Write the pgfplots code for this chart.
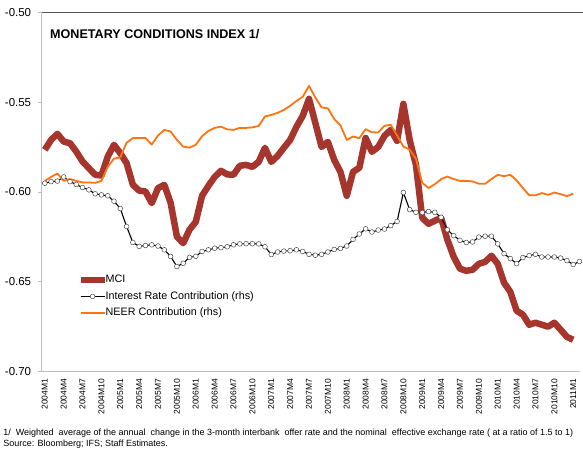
\documentclass[border=0pt]{standalone}
\usepackage{pgfplots}
\pgfplotsset{compat=1.18}
\usepackage{pgfplotstable}
\usepackage{fontspec}
\setmainfont{Liberation Sans}
\definecolor{mciRed}{HTML}{A5352D}
\definecolor{neerOrange}{HTML}{FF7410}
\definecolor{axGray}{HTML}{BFBFBF}

% month index (0 = 2004M1) and value
\pgfplotstableread{
i v
0 -0.5766
1 -0.5711
2 -0.5677
3 -0.5720
4 -0.5729
5 -0.5776
6 -0.5831
7 -0.5868
8 -0.5905
9 -0.5909
10 -0.5804
11 -0.5738
12 -0.5785
13 -0.5840
14 -0.5961
15 -0.5993
16 -0.5998
17 -0.6063
18 -0.5979
19 -0.5961
20 -0.6061
21 -0.6250
22 -0.6286
23 -0.6211
24 -0.6167
25 -0.6022
26 -0.5967
27 -0.5917
28 -0.5883
29 -0.5903
30 -0.5905
31 -0.5855
32 -0.5850
33 -0.5861
34 -0.5833
35 -0.5755
36 -0.5833
37 -0.5800
38 -0.5755
39 -0.5711
40 -0.5638
41 -0.5577
42 -0.5482
43 -0.5616
44 -0.5750
45 -0.5722
46 -0.5822
47 -0.5889
48 -0.6022
49 -0.5889
50 -0.5866
51 -0.5700
52 -0.5777
53 -0.5750
54 -0.5688
55 -0.5655
56 -0.5716
57 -0.5510
58 -0.5711
59 -0.5850
60 -0.6145
61 -0.6178
62 -0.6161
63 -0.6145
64 -0.6267
65 -0.6362
66 -0.6428
67 -0.6440
68 -0.6434
69 -0.6401
70 -0.6390
71 -0.6356
72 -0.6401
73 -0.6506
74 -0.6557
75 -0.6662
76 -0.6684
77 -0.6740
78 -0.6729
79 -0.6740
80 -0.6751
81 -0.6729
82 -0.6768
83 -0.6808
84 -0.6824
}\mci

\pgfplotstableread{
i v
0 -0.5952
1 -0.5943
2 -0.5940
3 -0.5917
4 -0.5943
5 -0.5959
6 -0.5976
7 -0.5989
8 -0.6011
9 -0.6017
10 -0.6022
11 -0.6052
12 -0.6093
13 -0.6193
14 -0.6282
15 -0.6304
16 -0.6299
17 -0.6295
18 -0.6302
19 -0.6323
20 -0.6360
21 -0.6416
22 -0.6398
23 -0.6365
24 -0.6359
25 -0.6332
26 -0.6323
27 -0.6314
28 -0.6311
29 -0.6306
30 -0.6295
31 -0.6290
32 -0.6289
33 -0.6289
34 -0.6290
35 -0.6306
36 -0.6349
37 -0.6335
38 -0.6330
39 -0.6328
40 -0.6323
41 -0.6332
42 -0.6348
43 -0.6353
44 -0.6348
45 -0.6335
46 -0.6321
47 -0.6315
48 -0.6302
49 -0.6265
50 -0.6235
51 -0.6206
52 -0.6224
53 -0.6213
54 -0.6207
55 -0.6188
56 -0.6165
57 -0.6004
58 -0.6099
59 -0.6114
60 -0.6115
61 -0.6110
62 -0.6114
63 -0.6142
64 -0.6211
65 -0.6244
66 -0.6270
67 -0.6282
68 -0.6279
69 -0.6252
70 -0.6247
71 -0.6247
72 -0.6290
73 -0.6344
74 -0.6372
75 -0.6400
76 -0.6366
77 -0.6355
78 -0.6348
79 -0.6363
80 -0.6363
81 -0.6363
82 -0.6369
83 -0.6383
84 -0.6405
85 -0.6388
}\irc

\pgfplotstableread{
i v
0 -0.5939
1 -0.5917
2 -0.5898
3 -0.5939
4 -0.5929
5 -0.5939
6 -0.5948
7 -0.5948
8 -0.5950
9 -0.5939
10 -0.5861
11 -0.5815
12 -0.5808
13 -0.5727
14 -0.5701
15 -0.5700
16 -0.5700
17 -0.5737
18 -0.5686
19 -0.5655
20 -0.5664
21 -0.5711
22 -0.5748
23 -0.5754
24 -0.5738
25 -0.5690
26 -0.5661
27 -0.5644
28 -0.5637
29 -0.5652
30 -0.5655
31 -0.5644
32 -0.5644
33 -0.5641
34 -0.5633
35 -0.5580
36 -0.5572
37 -0.5560
38 -0.5544
39 -0.5521
40 -0.5494
41 -0.5471
42 -0.5410
43 -0.5474
44 -0.5530
45 -0.5535
46 -0.5594
47 -0.5630
48 -0.5711
49 -0.5692
50 -0.5701
51 -0.5651
52 -0.5668
53 -0.5670
54 -0.5632
55 -0.5627
56 -0.5686
57 -0.5748
58 -0.5765
59 -0.5816
60 -0.5950
61 -0.5979
62 -0.5958
63 -0.5929
64 -0.5915
65 -0.5929
66 -0.5939
67 -0.5939
68 -0.5942
69 -0.5955
70 -0.5955
71 -0.5929
72 -0.5905
73 -0.5913
74 -0.5905
75 -0.5936
76 -0.5979
77 -0.6019
78 -0.6019
79 -0.6007
80 -0.6017
81 -0.6004
82 -0.6013
83 -0.6024
84 -0.6010
}\neer

\begin{document}
\begin{tikzpicture}
\path (0,0) rectangle (583pt,452pt);
\begin{axis}[
  at={(41.7pt,80.3pt)}, anchor=south west,
  scale only axis,
  width=538.3pt, height=359.4pt,
  xmin=-0.5, xmax=85,
  ymin=-0.70, ymax=-0.50,
  axis x line*=bottom, axis y line*=left,
  axis line style={draw=axGray, line width=0.8pt},
  ytick={-0.70,-0.65,-0.60,-0.55,-0.50},
  yticklabels={-0.70,-0.65,-0.60,-0.55,-0.50},
  yticklabel style={font=\fontsize{11.5}{13}\selectfont, xshift=-3pt},
  xtick={0,3,...,84},
  xticklabels={2004M1,2004M4,2004M7,2004M10,2005M1,2005M4,2005M7,2005M10,
    2006M1,2006M4,2006M7,2006M10,2007M1,2007M4,2007M7,2007M10,
    2008M1,2008M4,2008M7,2008M10,2009M1,2009M4,2009M7,2009M10,
    2010M1,2010M4,2010M7,2010M10,2011M1},
  xticklabel style={font=\fontsize{8.5}{10}\selectfont, rotate=90, anchor=east},
  x tick style={draw=none},
  extra x ticks={-0.5,2.5,...,83.5},
  extra x tick labels={},
  extra x tick style={tick style={draw=axGray, line width=0.6pt}, major tick length=4pt},
  y tick style={draw=axGray, line width=0.6pt},
  tick align=outside, major tick length=4pt,
  clip=false,
  legend style={at={(0.066,0.270)}, anchor=north west, draw=none, fill=none,
    font=\fontsize{10.8}{12}\selectfont, row sep=5.2pt,
    inner sep=0pt,
    nodes={inner sep=0.3pt, text height=8pt, text depth=2.5pt},
    /tikz/every odd column/.style={column sep=-2.5pt}},
  legend cell align=left,
  legend image code/.code={
    \draw[mark repeat=2, mark phase=2, #1]
      plot coordinates {(0pt,0pt) (12pt,0pt) (24pt,0pt)};},
]
\addplot[mciRed, line width=6.5pt, line join=round, no marks]
  table[x=i, y=v] {\mci};
\addlegendentry{MCI}

\addplot[black, line width=1.1pt, mark=*, mark size=2.4pt,
  mark options={fill=white, draw=black!70, line width=0.5pt}]
  table[x=i, y=v] {\irc};
\addlegendentry{Interest Rate Contribution (rhs)}

\addplot[neerOrange, line width=1.8pt, line join=round, no marks]
  table[x=i, y=v] {\neer};
\addlegendentry{NEER Contribution (rhs)}
\end{axis}

% top border of the plot area
\draw[black!65, line width=1pt] (41.7pt,439.7pt) -- (583pt,439.7pt);

\node[anchor=base west, font=\bfseries\fontsize{12.6}{15}\selectfont, inner sep=0pt]
  at (50pt,413pt) {MONETARY CONDITIONS INDEX 1/};
\node[anchor=base west, font=\fontsize{9}{10}\selectfont, inner sep=0pt]
  at (3.2pt,16pt) {1/\ \ Weighted\ \ average of the annual\ \ change in the 3-month interbank\ \ offer rate and the nominal\ \ effective exchange rate ( at a ratio of 1.5 to 1)};
\node[anchor=base west, font=\fontsize{9}{10}\selectfont, inner sep=0pt]
  at (3.2pt,5pt) {Source: Bloomberg; IFS; Staff Estimates.};
\end{tikzpicture}
\end{document}
